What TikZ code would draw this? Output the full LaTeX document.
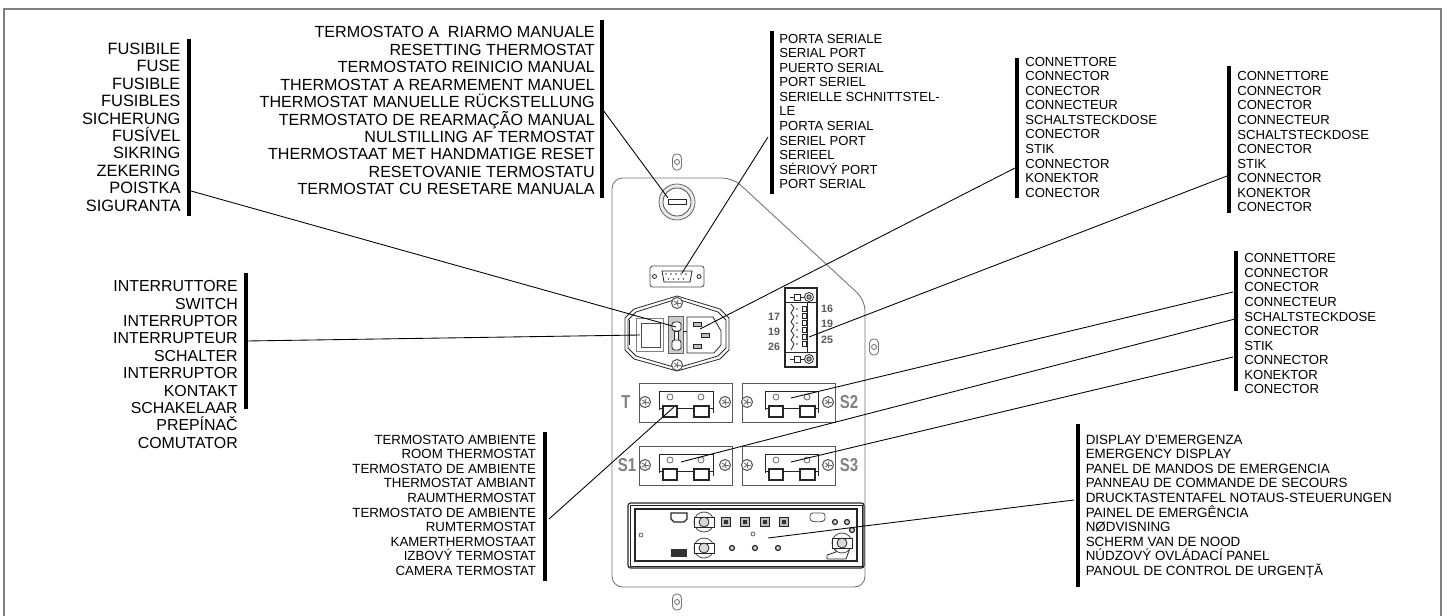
\documentclass[tikz,border=0pt]{standalone}
\usepackage{fontspec}
\setmainfont{Liberation Sans}
\newfontfamily\markfont[FakeStretch=0.8]{Liberation Sans}
\tikzset{
  fusetext/.style={inner sep=0pt, align=right, anchor=north east, font=\fontsize{12.3}{13.05}\selectfont},
  resettext/.style={inner sep=0pt, align=right, anchor=north east, font=\fontsize{12.08}{13.1}\selectfont},
  switchtext/.style={inner sep=0pt, align=right, anchor=north east, font=\fontsize{11.93}{13.05}\selectfont},
  roomtext/.style={inner sep=0pt, align=right, anchor=north east, font=\fontsize{9.95}{10.95}\selectfont},
  smalltext/.style={inner sep=0pt, align=left, anchor=north west, font=\fontsize{9.85}{10.92}\selectfont},
  displaytext/.style={inner sep=0pt, align=left, anchor=north west, font=\fontsize{10.05}{10.95}\selectfont},
  bar/.style={line width=3pt},
  leader/.style={black, line width=.65pt},
  outline/.style={black!55, line width=.65pt},
  part/.style={black!85, line width=.6pt},
  mark label/.style={inner sep=0pt, text=black!50, font=\markfont\fontsize{14}{14}\bfseries\selectfont},
  pin label/.style={inner sep=0pt, text=black!65, font=\fontsize{8}{8}\bfseries\selectfont}
}
\begin{document}
\begin{tikzpicture}[x=.75pt,y=-.75pt]
  \useasboundingbox (0,0) rectangle (1448,616);
  \clip (0,0) rectangle (1448,616);
  \draw[black!50, line width=1.5pt] (3.5,625) -- (3.5,9.5) -- (1441,9.5) -- (1441,625);

  % texts
  \node[fusetext] (fuse) at (180.7,42.8) {FUSIBILE\\FUSE\\FUSIBLE\\FUSIBLES\\SICHERUNG\\FUS\'IVEL\\SIKRING\\ZEKERING\\POISTKA\\SIGURANTA};
  \node[resettext] (reset) at (595,26.2) {TERMOSTATO A\ \ RIARMO MANUALE\\RESETTING THERMOSTAT\\TERMOSTATO REINICIO MANUAL\\THERMOSTAT A REARMEMENT MANUEL\\THERMOSTAT MANUELLE RÜCKSTELLUNG\\TERMOSTATO DE REARMAÇÃO MANUAL\\NULSTILLING AF TERMOSTAT\\THERMOSTAAT MET HANDMATIGE RESET\\RESETOVANIE TERMOSTATU\\TERMOSTAT CU RESETARE MANUALA};
  \node[switchtext] (switch) at (238,280.3) {INTERRUTTORE\\SWITCH\\INTERRUPTOR\\INTERRUPTEUR\\SCHALTER\\INTERRUPTOR\\KONTAKT\\SCHAKELAAR\\PREPÍNAČ\\COMUTATOR};
  \node[roomtext] (room) at (536.2,434.5) {TERMOSTATO AMBIENTE\\ROOM THERMOSTAT\\TERMOSTATO DE AMBIENTE\\THERMOSTAT AMBIANT\\RAUMTHERMOSTAT\\TERMOSTATO DE AMBIENTE\\RUMTERMOSTAT\\KAMERTHERMOSTAAT\\IZBOVÝ TERMOSTAT\\CAMERA TERMOSTAT};
  \node[smalltext] (serial) at (779,33.7) {PORTA SERIALE\\SERIAL PORT\\PUERTO SERIAL\\PORT SERIEL\\SERIELLE SCHNITTSTEL-\\LE\\PORTA SERIAL\\SERIEL PORT\\SERIEEL\\SÉRIOVÝ PORT\\PORT SERIAL};
  \node[smalltext] (conna) at (1025,56.7) {CONNETTORE\\CONNECTOR\\CONECTOR\\CONNECTEUR\\SCHALTSTECKDOSE\\CONECTOR\\STIK\\CONNECTOR\\KONEKTOR\\CONECTOR};
  \node[smalltext] (connb) at (1237,71.4) {CONNETTORE\\CONNECTOR\\CONECTOR\\CONNECTEUR\\SCHALTSTECKDOSE\\CONECTOR\\STIK\\CONNECTOR\\KONEKTOR\\CONECTOR};
  \node[smalltext] (connc) at (1244,253.4) {CONNETTORE\\CONNECTOR\\CONECTOR\\CONNECTEUR\\SCHALTSTECKDOSE\\CONECTOR\\STIK\\CONNECTOR\\KONEKTOR\\CONECTOR};
  \node[displaytext] (display) at (1085.5,434.4) {DISPLAY D'EMERGENZA\\EMERGENCY DISPLAY\\PANEL DE MANDOS DE EMERGENCIA\\PANNEAU DE COMMANDE DE SECOURS\\DRUCKTASTENTAFEL NOTAUS-STEUERUNGEN\\PAINEL DE EMERGÊNCIA\\NØDVISNING\\SCHERM VAN DE NOOD\\NÚDZOVÝ OVLÁDACÍ PANEL\\PANOUL DE CONTROL DE URGENȚĂ};

  % bars next to the texts
  \foreach \x/\ya/\yb in {188.6/39/216, 601.8/20/198, 246/273/409, 544.5/432/581, 771.5/31/194,
      1017/58/198, 1229/66/213, 1236/251/391, 1078/424/587} {
    \draw[bar] (\x,\ya) -- (\x,\yb);
  }

  % panel
  \draw[outline, rounded corners=8pt] (612,400) -- (612,178) -- (733,178) -- (865,300) -- (865,587) -- (612,587) -- (612,400);
  \foreach \x/\y in {677/162, 874/347, 677/602} {
    \draw[outline, rounded corners=3pt] (\x-4.5,\y-8) rectangle (\x+4.5,\y+8);
    \draw[outline] (\x,\y) circle (2.5);
  }

  % knob
  \draw[part, black!60, fill=black!8] (677,202) circle (18);
  \draw[part, black!70, fill=white] (677,202) circle (14);
  \draw[part, fill=white] (668.5,199.5) rectangle (686.5,204.5);

  % serial port
  \draw[part, black!70, rounded corners=2pt] (650,266) rectangle (704,287);
  \draw[part] (662,271) -- (692,271) -- (690,282) -- (664,282) -- cycle;
  \foreach \x in {654.5,699} { \draw[part] (\x,276.5) circle (2); }
  \foreach \x in {666,671,676,681,686} { \fill[black!70] (\x,274) circle (.8); }
  \foreach \x in {668.5,673.5,678.5,683.5} { \fill[black!70] (\x,279) circle (.8); }

  % power module
  \draw[part] (677,296) -- (720,309) -- (729,318) -- (729,350) -- (720,359) -- (677,371) -- (634,359) -- (625,350) -- (625,318) -- (634,309) -- cycle;
  \draw[part] (677,299) -- (718,312) -- (726,320) -- (726,348) -- (718,356) -- (677,368) -- (636,356) -- (628,348) -- (628,320) -- (636,312) -- cycle;
  \draw[part, line width=1.2pt] (629.5,320) -- (629.5,345);
  \draw[part, black!50] (636,318) rectangle (663,351);
  \draw[part, black!70, fill=white] (641,323) rectangle (660,347);
  \fill[black!20] (668,316) rectangle (683,353);
  \draw[part, black!60] (668,316) rectangle (683,353);
  \draw[part, fill=white, rounded corners=2pt] (672,322) rectangle (681,331);
  \draw[part, fill=white] (674.5,331) rectangle (678.5,340);
  \draw[part, fill=white, rounded corners=2pt] (672,340) rectangle (681,350);
  \draw[part] (687,317) -- (713,317) -- (721,331) -- (721,345) -- (714,353) -- (687,353) -- cycle;
  \draw[part] (683,331) -- (687,331);
  \foreach \x/\y in {697/324, 705/335, 697/346} {
    \draw[part, fill=black!25] (\x-4,\y-2) rectangle (\x+4,\y+2);
  }

  % terminal block
  \draw[part, line width=.9pt] (785,288) rectangle (817,367);
  \draw[part] (785,302) -- (817,302);
  \draw[part] (785,352) -- (817,352);
  \foreach \y in {297,359} {
    \draw[part] (809,\y) circle (4.5);
    \draw[part, fill=black!30] (809,\y) circle (2.2);
    \draw[part] (794,\y-3) rectangle (800,\y+3);
    \draw[part] (790,\y) -- (794,\y);
    \draw[part] (800,\y) -- (804,\y);
  }
  \draw[part] (791,304) -- (794,308) -- (791,313) -- (794,317) -- (791,322) -- (794,326) -- (791,331) -- (794,335) -- (791,340) -- (794,344) -- (791,350);
  \foreach \y in {309,316,323,330,337,344} {
    \fill[black!80] (797,\y) circle (.9);
    \draw[part, line width=.5pt] (802,\y-2.5) rectangle (806,\y+2.5);
  }
  \draw[part, line width=1pt] (807.5,302) -- (807.5,352);
  \foreach \y/\t in {317/17, 332/19, 347/26} { \node[pin label] (pinl\t) at (774,\y) {\t}; }
  \foreach \y/\t in {309/16, 324/19, 340/25} { \node[pin label] (pinr\t) at (827,\y) {\t}; }

  % four thermostat boxes
  \foreach \x/\y/\ddx in {639/383/0, 742/383/1, 639/446/0, 742/446/1} {
    \draw[part, black!65] (\x,\y) rectangle (\x+93,\y+39);
    \draw[part] (\x+20+3*\ddx,\y+8) -- (\x+74+2*\ddx,\y+8) -- (\x+74+2*\ddx,\y+30);
    \draw[part] (\x+20+3*\ddx,\y+8) -- (\x+20+3*\ddx,\y+27);
    \draw[part] (\x+20+3*\ddx,\y+25) -- (\x+74+2*\ddx,\y+25);
    \draw[part, fill=white, line width=.9pt] (\x+24+3*\ddx,\y+23) rectangle (\x+38+3*\ddx,\y+34);
    \draw[part, fill=white, line width=.9pt] (\x+55+3*\ddx,\y+23) rectangle (\x+70+3*\ddx,\y+34);
    \draw[part, black!60] (\x+31+3*\ddx,\y+14) circle (3);
    \draw[part, black!60] (\x+62+3*\ddx,\y+14) circle (3);
  }
  \foreach \x/\y in {645/402, 725/402, 747/402, 828/402, 677/303, 677/365, 645/465, 725/465, 747/465, 828/465} {
    \draw[part, black!65, fill=white, line width=.8pt] (\x,\y) circle (5.5);
    \foreach \a in {0,72,144,216,288} {
      \draw[black!60, line width=.6pt] (\x,\y) -- ++(\a:3.5);
    }
  }
  \node[mark label] (markt) at (626,402) {T};
  \node[mark label] (marksb) at (849,402) {S2};
  \node[mark label] (marksa) at (627,465) {S1};
  \node[mark label] (marksc) at (849,465) {S3};

  % emergency display
  \draw[part, line width=.9pt, rounded corners=2pt] (628,503) rectangle (864,568);
  \draw[part, line width=1.1pt] (635,509) rectangle (857,561);
  \draw[part] (630,505) rectangle (862,566);
  \draw[part, black!60] (641,535) circle (2);
  \draw[part, line width=1pt] (671,513) -- (687,513) -- (687,519) -- (684,522) -- (674,522) -- (671,519) -- cycle;
  \foreach \y in {522,548} {
    \draw[part, black!70] (704,\y) circle (10);
    \draw[part, fill=white] (694,\y-5) rectangle (714,\y+5);
    \draw[part, fill=black!15] (704,\y) circle (5);
  }
  \foreach \x in {726,745,765,784} {
    \draw[part, fill=black!25] (\x-4.5,517.5) rectangle (\x+4.5,526.5);
    \fill[black!80] (\x-2,520) rectangle (\x+2,524);
  }
  \draw[part, black!70, rounded corners=2pt] (810,513) -- (825,513) -- (825,521) -- (818,522) -- (810,521) -- cycle;
  \foreach \x/\y in {835/522, 847/522, 852/530, 732/548, 755/548, 778/548} {
    \draw[part, fill=black!15, line width=.9pt] (\x,\y) circle (2.5);
  }
  \draw[part, black!60] (753,534) circle (2);
  \fill[black!80] (671,549) rectangle (687,557);
  \draw[part, black!70] (842,543) circle (10);
  \draw[part, fill=white] (832,538) rectangle (852,548);
  \draw[part, fill=black!15] (842,543) circle (5);
  \draw[part] (836,548) -- (836,552) -- (827,555) -- (827,559) -- (846,559) -- (850,548);

  % leaders
  \coordinate (fuseend) at (191,191);
  \coordinate (fusepart) at (676,327);
  \coordinate (switchend) at (247,341);
  \coordinate (switchpart) at (640,335);
  \coordinate (resetend) at (603,110);
  \coordinate (resetpart) at (668,198);
  \coordinate (serialend) at (768,137);
  \coordinate (serialpart) at (682,273);
  \coordinate (connaend) at (1015,168);
  \coordinate (connapart) at (700,329);
  \coordinate (connbend) at (1227,176);
  \coordinate (connbpart) at (809,337);
  \coordinate (connctop) at (1233,292);
  \coordinate (conncmid) at (1235,319);
  \coordinate (conncbot) at (1233,357);
  \coordinate (sbpart) at (791,398);
  \coordinate (sapart) at (681,462);
  \coordinate (scpart) at (791,462);
  \coordinate (roomend) at (549,519);
  \coordinate (roompart) at (674,407);
  \coordinate (displayend) at (1074,500);
  \coordinate (displaypart) at (768,538);
  \foreach \a/\b in {fuseend/fusepart, switchend/switchpart, resetend/resetpart, serialend/serialpart,
      connaend/connapart, connbend/connbpart, connctop/sbpart, conncmid/sapart, conncbot/scpart,
      roomend/roompart, displayend/displaypart} {
    \draw[leader] (\a) -- (\b);
  }
\end{tikzpicture}
\end{document}
